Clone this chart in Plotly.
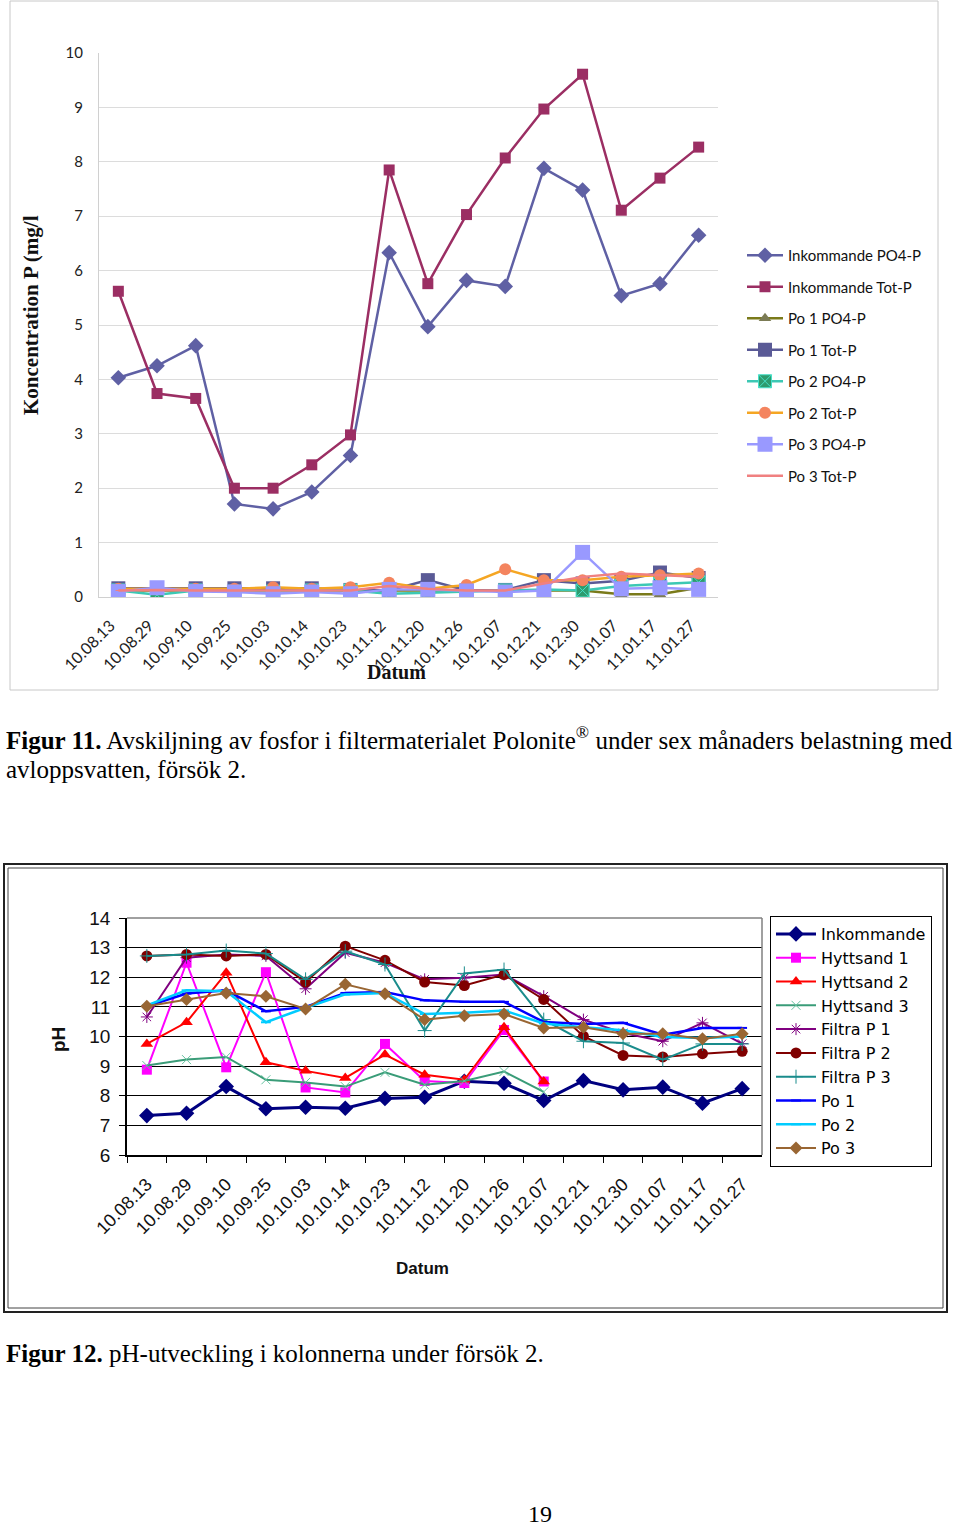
import plotly.graph_objects as go

W, H = 960, 1527
def px(x): return x / W
def py(y): return 1 - y / H

# ---------- Data: Figure 11 (phosphorus) ----------
dates = ["10.08.13", "10.08.29", "10.09.10", "10.09.25", "10.10.03", "10.10.14",
         "10.10.23", "10.11.12", "10.11.20", "10.11.26", "10.12.07", "10.12.21",
         "10.12.30", "11.01.07", "11.01.17", "11.01.27"]

ink_po4 = [4.03, 4.25, 4.62, 1.71, 1.62, 1.93, 2.60, 6.33, 4.97, 5.82, 5.71, 7.88, 7.48, 5.54, 5.76, 6.65]
ink_totp = [5.62, 3.74, 3.65, 2.00, 2.00, 2.43, 2.98, 7.85, 5.76, 7.03, 8.07, 8.97, 9.61, 7.11, 7.70, 8.27]
po1_po4 = [0.12, 0.12, 0.12, 0.12, 0.12, 0.12, 0.12, 0.12, 0.12, 0.12, 0.12, 0.12, 0.12, 0.05, 0.05, 0.17]
po1_totp = [0.16, 0.16, 0.16, 0.16, 0.16, 0.16, 0.13, 0.12, 0.31, 0.12, 0.13, 0.31, 0.25, 0.30, 0.45, 0.35]
po2_po4 = [0.12, 0.04, 0.12, 0.10, 0.10, 0.12, 0.12, 0.06, 0.08, 0.10, 0.12, 0.14, 0.12, 0.20, 0.24, 0.27]
po2_totp = [0.15, 0.15, 0.15, 0.15, 0.18, 0.15, 0.18, 0.26, 0.15, 0.22, 0.51, 0.31, 0.31, 0.37, 0.40, 0.43]
po3_po4 = [0.10, 0.17, 0.10, 0.09, 0.06, 0.09, 0.06, 0.14, 0.14, 0.11, 0.09, 0.12, 0.82, 0.15, 0.17, 0.14]
po3_totp = [0.12, 0.13, 0.12, 0.12, 0.12, 0.12, 0.12, 0.20, 0.15, 0.12, 0.12, 0.25, 0.37, 0.43, 0.40, 0.37]

# ---------- Data: Figure 12 (pH) ----------
inkommande = [7.33, 7.41, 8.31, 7.56, 7.61, 7.58, 7.91, 7.95, 8.49, 8.42, 7.84, 8.51, 8.20, 8.29, 7.75, 8.24]
hyttsand1 = [8.88, 12.49, 8.96, 12.17, 8.28, 8.11, 9.75, 8.50, 8.43, 10.22, 8.48, None, None, None, None, None]
hyttsand2 = [9.75, 10.48, 12.15, 9.13, 8.84, 8.60, 9.39, 8.71, 8.54, 10.31, 8.48, None, None, None, None, None]
hyttsand3 = [9.02, 9.22, 9.31, 8.54, 8.45, 8.31, 8.79, 8.37, 8.50, 8.82, 8.13, None, None, None, None, None]
filtra1 = [10.66, 12.66, 12.77, 12.72, 11.61, 12.83, 12.49, 11.93, 11.98, 12.09, 11.36, 10.57, 10.12, 9.84, 10.46, 9.76]
filtra2 = [12.72, 12.77, 12.72, 12.77, 11.84, 13.05, 12.57, 11.84, 11.72, 12.09, 11.25, 10.01, 9.36, 9.31, 9.42, 9.50]
filtra3 = [12.72, 12.77, 12.90, 12.80, 11.93, 12.88, 12.43, 10.20, 12.13, 12.26, 10.57, 9.84, 9.78, 9.22, 9.75, 9.75]
po1_ph = [11.02, 11.45, 11.56, 10.85, 11.00, 11.47, 11.50, 11.22, 11.17, 11.17, 10.49, 10.42, 10.46, 10.06, 10.29, 10.29]
po2_ph = [11.05, 11.56, 11.53, 10.48, 10.97, 11.42, 11.47, 10.76, 10.80, 10.88, 10.44, 10.31, 10.21, 9.98, 9.95, 10.00]
po3_ph = [11.02, 11.25, 11.47, 11.36, 10.93, 11.76, 11.44, 10.57, 10.70, 10.76, 10.29, 10.31, 10.09, 10.09, 9.92, 10.09]

fig = go.Figure()

top_series = [
    ("Inkommande PO4-P", ink_po4, "#5F60A4", dict(symbol="diamond", size=12, color="#5F60A4")),
    ("Inkommande Tot-P", ink_totp, "#9B2E63", dict(symbol="square", size=11, color="#9B2E63")),
    ("Po 1 PO4-P", po1_po4, "#7A7A1A", dict(symbol="triangle-up", size=11, color="#7B7B55")),
    ("Po 1 Tot-P", po1_totp, "#5A5A96", dict(symbol="square", size=14, color="#5A5A96")),
    ("Po 2 PO4-P", po2_po4, "#3CC8B4", dict(symbol="square-x", size=13, color="#2E9B6E",
                                             line=dict(color="#46E0C8", width=1))),
    ("Po 2 Tot-P", po2_totp, "#F5A623", dict(symbol="circle", size=12, color="#F4845F")),
    ("Po 3 PO4-P", po3_po4, "#9999FF", dict(symbol="square", size=15, color="#9999FF")),
    ("Po 3 Tot-P", po3_totp, "#F08080", dict(symbol="line-ew", size=4, color="#F08080",
                                            line=dict(color="#F08080", width=1))),
]
for i, (name, vals, col, mk) in enumerate(top_series):
    fig.add_trace(go.Scatter(x=dates, y=vals, name=name, mode="lines+markers",
                             line=dict(color=col, width=2.5), marker=mk,
                             xaxis="x", yaxis="y", legend="legend",
                             legendgroup="t%d" % i))

bot_series = [
    ("Inkommande", inkommande, "#000080", 3, dict(symbol="diamond", size=12, color="#000080")),
    ("Hyttsand 1", hyttsand1, "#FF00FF", 2, dict(symbol="square", size=10, color="#FF00FF")),
    ("Hyttsand 2", hyttsand2, "#FF0000", 2, dict(symbol="triangle-up", size=11, color="#FF0000")),
    ("Hyttsand 3", hyttsand3, "#3A9C78", 2, dict(symbol="x-thin", size=9, color="#3A9C78",
                                                 line=dict(color="#66C2A0", width=1))),
    ("Filtra P 1", filtra1, "#800080", 2, dict(symbol="asterisk", size=10, color="#800080",
                                               line=dict(color="#800080", width=1))),
    ("Filtra P 2", filtra2, "#800000", 2, dict(symbol="circle", size=11, color="#800000")),
    ("Filtra P 3", filtra3, "#1A8C8C", 2, dict(symbol="cross-thin", size=10, color="#1A8C8C",
                                               line=dict(color="#1A8C8C", width=1))),
    ("Po 1", po1_ph, "#0000FF", 2.5, dict(symbol="line-ew", size=7, color="#0000FF",
                                          line=dict(color="#0000FF", width=2))),
    ("Po 2", po2_ph, "#00CCFF", 2.5, dict(symbol="line-ew", size=7, color="#00CCFF",
                                          line=dict(color="#00CCFF", width=2))),
    ("Po 3", po3_ph, "#996633", 2, dict(symbol="diamond", size=10, color="#996633")),
]
for name, vals, col, lw, mk in bot_series:
    fig.add_trace(go.Scatter(x=dates, y=vals, name=name, mode="lines+markers",
                             line=dict(color=col, width=lw), marker=mk,
                             xaxis="x2", yaxis="y2", legend="legend2"))

fig.update_layout(
    template="none",
    width=W, height=H, margin=dict(l=0, r=0, t=0, b=0, pad=0, autoexpand=False),
    paper_bgcolor="white", plot_bgcolor="white",
    showlegend=True,
    xaxis=dict(domain=[px(99), px(718)], anchor="y", type="category", automargin=False,
               range=[-0.5, 15.5], showgrid=False, showline=True, linecolor="#D0D0D0",
               zeroline=False, ticks="", tickangle=-45, ticklabelstandoff=12,
               ticklabelshift=-8,
               tickfont=dict(family="Lato", size=16, color="#222")),
    yaxis=dict(domain=[py(597), py(53)], anchor="x", range=[0, 10], dtick=1, automargin=False,
               showgrid=True, gridcolor="#DCDCDC", gridwidth=1, showline=True, linecolor="#D0D0D0",
               zeroline=False, ticks="", ticklabelstandoff=12,
               tickfont=dict(family="Lato", size=15, color="#222")),
    xaxis2=dict(domain=[px(127), px(762)], anchor="y2", type="category", automargin=False,
                range=[-0.5, 15.5], showgrid=False, showline=True, linecolor="black",
                linewidth=1.5, zeroline=False, ticks="outside", ticklen=6, tickcolor="black",
                tickson="boundaries", tickangle=-45, ticklabelstandoff=10,
                tickfont=dict(family="Liberation Sans", size=18, color="#111")),
    yaxis2=dict(domain=[py(1155), py(918)], anchor="x2", range=[6, 14], dtick=1, automargin=False,
                showgrid=True, gridcolor="black", gridwidth=1, showline=True,
                linecolor="black", linewidth=1.5, zeroline=False,
                ticks="outside", ticklen=6, tickcolor="black", ticklabelstandoff=5,
                tickfont=dict(family="Liberation Sans", size=19, color="#111")),
    legend=dict(x=px(742), y=py(239), xanchor="left", yanchor="top",
                font=dict(family="Lato", size=15, color="#111"),
                bgcolor="rgba(0,0,0,0)", borderwidth=0, itemwidth=36,
                tracegroupgap=9),
    legend2=dict(x=px(770), y=py(916), xanchor="left", yanchor="top",
                 font=dict(family="DejaVu Sans", size=16, color="#000"),
                 bgcolor="white", bordercolor="black", borderwidth=1, itemwidth=40,
                 tracegroupgap=0),
)

shapes = [
    dict(type="rect", xref="paper", yref="paper", x0=px(10), x1=px(938), y0=py(690), y1=py(1),
         line=dict(color="#C8C8C8", width=1)),
    dict(type="line", xref="paper", yref="paper", x0=px(127), x1=px(762), y0=py(918), y1=py(918),
         line=dict(color="#808080", width=1.5)),
    dict(type="line", xref="paper", yref="paper", x0=px(762), x1=px(762), y0=py(918), y1=py(1155),
         line=dict(color="#808080", width=1.5)),
    dict(type="rect", xref="paper", yref="paper", x0=px(4), x1=px(947), y0=py(1312), y1=py(864),
         line=dict(color="#222", width=2)),
    dict(type="rect", xref="paper", yref="paper", x0=px(8), x1=px(943), y0=py(1308), y1=py(868),
         line=dict(color="#444", width=1)),
]
fig.update_layout(shapes=shapes)

serif = "Liberation Serif"
ann = [
    dict(text="<b>Koncentration P (mg/l</b>", x=px(31), y=py(315), textangle=-90,
         font=dict(family=serif, size=21, color="#111")),
    dict(text="<b>Datum</b>", x=px(396), y=py(672),
         font=dict(family=serif, size=20, color="#111")),
    dict(text="<b>pH</b>", x=px(58), y=py(1040), textangle=-90,
         font=dict(family="Liberation Sans", size=19, color="#111")),
    dict(text="<b>Datum</b>", x=px(422), y=py(1268),
         font=dict(family="Liberation Sans", size=17, color="#111")),
    dict(text="<b>Figur 11.</b> Avskiljning av fosfor i filtermaterialet Polonite<sup>®</sup> under sex månaders belastning med",
         x=px(4), y=py(738), xanchor="left",
         font=dict(family=serif, size=25, color="#000")),
    dict(text="avloppsvatten, försök 2.", x=px(4), y=py(770), xanchor="left",
         font=dict(family=serif, size=25, color="#000")),
    dict(text="<b>Figur 12.</b> pH-utveckling i kolonnerna under försök 2.", x=px(4), y=py(1353),
         xanchor="left", font=dict(family=serif, size=25, color="#000")),
    dict(text="19", x=px(540), y=py(1514), font=dict(family=serif, size=24, color="#000")),
]
for a in ann:
    a.setdefault("xref", "paper")
    a.setdefault("yref", "paper")
    a.setdefault("showarrow", False)
    a.setdefault("yanchor", "middle")
    a.setdefault("xanchor", "center")
fig.update_layout(annotations=ann)

fig.write_html("out.html", config={"displayModeBar": False},
               post_script="document.body.style.margin='0px';document.body.style.overflow='hidden';")
